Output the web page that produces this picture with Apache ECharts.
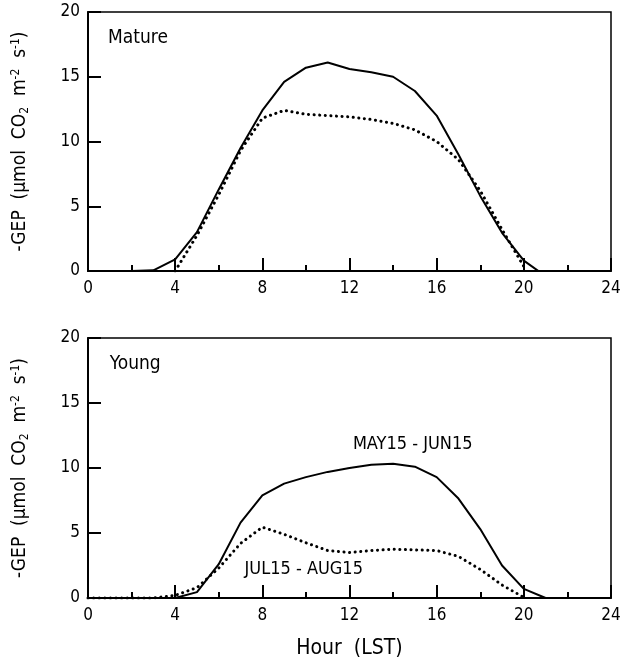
<!DOCTYPE html>
<html><head><meta charset="utf-8">
<script src="https://cdn.jsdelivr.net/npm/echarts@6/dist/echarts.min.js"></script>
<style>html,body{margin:0;padding:0;background:#fff}#c{width:625px;height:666px}</style>
</head><body><div id="c"></div>
<script>
const FONT = "'Liberation Sans Narrow','DejaVu Sans Condensed','Liberation Sans',sans-serif";
const xTicks = [0, 4, 8, 12, 16, 20, 24];
const yTicks = [0, 5, 10, 15, 20];
const panelNames = ['Mature', 'Young'];
const periodLabels = ['MAY15 - JUN15', 'JUL15 - AUG15'];

const matureMayHours = [2,3,4,5,6,7,8,9,10,11,12,13,14,15,16,17,18,19,20,21];
const matureMayVals  = [0,0.05,0.9,3.0,6.3,9.5,12.4,14.6,15.7,16.1,15.6,15.35,15.0,13.9,12.0,9.0,5.8,2.95,0.8,-0.4];
const matureJulHours = [4,5,6,7,8,9,10,11,12,13,14,15,16,17,18,19,20];
const matureJulVals  = [0,2.75,5.9,9.3,11.8,12.4,12.1,12.0,11.9,11.7,11.4,10.9,10.0,8.6,6.2,3.2,0.35];

const youngMayHours = [4,5,6,7,8,9,10,11,12,13,14,15,16,17,18,19,20,21,22];
const youngMayVals  = [0,0.45,2.6,5.8,7.9,8.8,9.3,9.7,10.0,10.25,10.33,10.1,9.3,7.65,5.3,2.5,0.7,0,0];
const youngJulHours = [0,1,2,3,4,5,6,7,8,9,10,11,12,13,14,15,16,17,18,19,20];
const youngJulVals  = [0,0,0,0,0.2,0.8,2.3,4.2,5.45,4.9,4.25,3.65,3.5,3.65,3.75,3.7,3.65,3.2,2.2,1.0,0.05];

const pairs = (h, v) => h.map((x, i) => [x, v[i]]);

const grids = [
  {left: 88, top: 12, width: 523, height: 259},
  {left: 88, top: 338, width: 523, height: 260}
].map(g => Object.assign(g, {show: true, borderColor: '#000', borderWidth: 1.5, containLabel: false}));

function xAxis(i) {
  return {
    type: 'value', gridIndex: i, min: xTicks[0], max: xTicks[xTicks.length-1], interval: 4,
    axisLine: {show: true, lineStyle: {color: '#000', width: 2}},
    axisTick: {show: true, inside: true, length: 13, lineStyle: {color: '#000', width: 2}},
    minorTick: {show: true, splitNumber: 2, length: 6, lineStyle: {color: '#000', width: 2}},
    splitLine: {show: false},
    axisLabel: {color: '#000', fontSize: 17, fontFamily: FONT, margin: 9},
    name: i === 1 ? 'Hour  (LST)' : '',
    nameLocation: 'middle', nameGap: 40,
    nameTextStyle: {color: '#000', fontSize: 21, fontFamily: FONT}
  };
}
function yAxis(i) {
  return {
    type: 'value', gridIndex: i, min: yTicks[0], max: yTicks[yTicks.length-1], interval: 5,
    axisLine: {show: true, lineStyle: {color: '#000', width: 2}},
    axisTick: {show: true, inside: true, length: 13, lineStyle: {color: '#000', width: 2}},
    splitLine: {show: false},
    axisLabel: {color: '#000', fontSize: 17, fontFamily: FONT, margin: 8},
    name: '-GEP  (μmol  CO{sub|2}  m{sup|-2}  s{sup|-1})',
    nameLocation: 'middle', nameGap: 57, nameRotate: 90,
    nameTextStyle: {color: '#000', fontSize: 19, fontFamily: FONT,
      rich: {sub: {fontSize: 12, fontFamily: FONT, color: '#000', verticalAlign: 'bottom', padding: [9,0,0,0]},
             sup: {fontSize: 12, fontFamily: FONT, color: '#000', verticalAlign: 'top', padding: [0,0,9,0]}}}
  };
}

function textPoint(coord, text, align, size) {
  return {coord: coord, symbol: 'circle', symbolSize: 0,
    label: {show: true, position: 'inside', formatter: text, color: '#000', fontSize: size, fontFamily: FONT, align: align}};
}

const solid = {color: '#000', width: 2, type: 'solid'};
const dotted = {color: '#000', width: 3, type: [0.1, 5.5], cap: 'round'};

const series = [
  {type: 'line', xAxisIndex: 0, yAxisIndex: 0, data: pairs(matureMayHours, matureMayVals), showSymbol: false, lineStyle: solid, clip: true,
   markPoint: {data: [textPoint([0.92, 18], panelNames[0], 'left', 19)]}},
  {type: 'line', xAxisIndex: 0, yAxisIndex: 0, data: pairs(matureJulHours, matureJulVals), showSymbol: false, lineStyle: dotted, clip: true},
  {type: 'line', xAxisIndex: 1, yAxisIndex: 1, data: pairs(youngMayHours, youngMayVals), showSymbol: false, lineStyle: solid, clip: true,
   markPoint: {data: [textPoint([1.0, 18], panelNames[1], 'left', 19), textPoint([14.9, 11.85], periodLabels[0], 'center', 18)]}},
  {type: 'line', xAxisIndex: 1, yAxisIndex: 1, data: pairs(youngJulHours, youngJulVals), showSymbol: false, lineStyle: dotted, clip: true,
   markPoint: {data: [textPoint([9.9, 2.2], periodLabels[1], 'center', 18)]}}
];

const chart = echarts.init(document.getElementById('c'), null, {renderer: 'canvas'});
chart.setOption({
  animation: false,
  backgroundColor: '#fff',
  grid: grids,
  xAxis: [xAxis(0), xAxis(1)],
  yAxis: [yAxis(0), yAxis(1)],
  series: series
});
</script></body></html>
